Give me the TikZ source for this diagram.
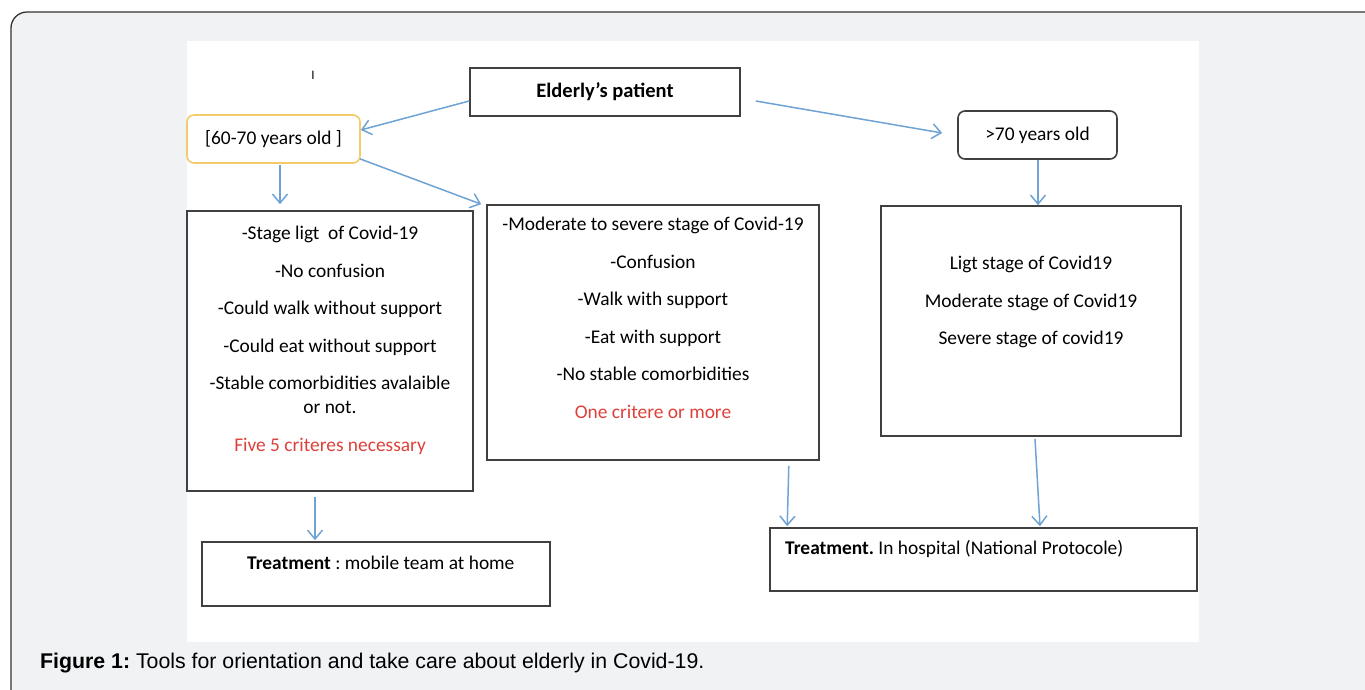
\documentclass[tikz,border=0pt]{standalone}
\usepackage{fontspec}
\setmainfont{Carlito}
\newfontfamily\capfont{Liberation Sans}
\usetikzlibrary{arrows.meta,positioning}
\frenchspacing
\definecolor{arrowblue}{RGB}{111,163,212}
\definecolor{ageyellow}{RGB}{243,203,107}
\definecolor{critred}{RGB}{222,64,58}
\definecolor{pagegray}{RGB}{241,242,244}
\definecolor{framegray}{RGB}{64,64,64}

\begin{document}
\begin{tikzpicture}[x=1pt,y=-1pt,
 frame/.style={draw=framegray,line width=1.6pt,inner sep=0pt,font=\fontsize{19.4}{22}\selectfont},
 ageframe/.style={frame,rounded corners=7pt},
 lines/.style={align=center,inner sep=0pt,font=\fontsize{19.4}{37.5}\selectfont},
 >={Straight Barb[length=9pt,width=15pt]},
 link/.style={->,draw=arrowblue,line width=1.5pt}]
\useasboundingbox (0,0) rectangle (1365,689);
% page and figure area
\draw[draw=black!80,fill=pagegray,line width=1.3pt,rounded corners=16pt] (11,12) rectangle (1420,720);
\fill[white] (187,41) rectangle (1199,642);
\node[font=\fontsize{13}{15}\selectfont,inner sep=0pt] (mark) at (313,75) {I};

% top level
\node[frame,font=\fontsize{20.5}{23}\selectfont,minimum width=270pt,minimum height=48pt] (elderly) at (605,92) {\textbf{Elderly’s patient}};
\node[ageframe,draw=ageyellow,minimum width=173pt,minimum height=48pt] (young) at (273.5,139) {[60-70 years old ]};
\node[ageframe,minimum width=159pt,minimum height=48pt] (old) at (1037.5,135) {>70 years old};

% criteria boxes
\node[frame,minimum width=286pt,minimum height=280pt] (leftbox) at (330,351) {};
\node[frame,minimum width=332pt,minimum height=255pt] (midbox) at (653,332.5) {};
\node[frame,minimum width=300pt,minimum height=230pt] (rightbox) at (1031,321) {};
\node[lines,below=16pt of leftbox.north] (lefttext) {-Stage ligt\ \ of Covid-19\\-No confusion\\-Could walk without support\\-Could eat without support\\-Stable comorbidities avalaible\\[-13.5pt]or not.\\\textcolor{critred}{Five 5 criteres necessary}};
\node[lines,below=13pt of midbox.north] (midtext) {-Moderate to severe stage of Covid-19\\-Confusion\\-Walk with support\\-Eat with support\\-No stable comorbidities\\\textcolor{critred}{One critere or more}};
\node[lines,below=51pt of rightbox.north] (righttext) {Ligt stage of Covid19\\Moderate stage of Covid19\\Severe stage of covid19};

% treatment boxes
\node[frame,minimum width=348pt,minimum height=64pt] (homebox) at (376,574) {};
\node[frame,minimum width=427pt,minimum height=63pt] (hospbox) at (983.5,559.5) {};
\node[lines,anchor=west] (hometext) at (247,563) {\textbf{Treatment} : mobile team at home};
\node[lines,anchor=west] (hosptext) at (785,549) {\textbf{Treatment.} In hospital (National Protocole)};

% connectors
\draw[link] ([yshift=-9pt]elderly.west) -- ([yshift=9pt]young.east);
\draw[link] ([xshift=15pt,yshift=-9pt]elderly.east) -- ([xshift=-15pt,yshift=2pt]old.west);
\draw[link] ([xshift=6.5pt,yshift=-1pt]young.south) -- ([xshift=-50pt,yshift=6pt]leftbox.north);
\draw[link] ([xshift=-1pt,yshift=5pt]young.south east) -- ([xshift=-5pt]midbox.north west);
\draw[link] ([xshift=0.5pt]old.south) -- ([xshift=0.5pt]old.south |- rightbox.north);
\draw[link] ([xshift=-15pt,yshift=-5pt]leftbox.south) -- ([xshift=-61pt,yshift=1pt]homebox.north);
\draw[link] ([xshift=-31pt,yshift=-5pt]midbox.south east) -- ([xshift=18pt,yshift=1pt]hospbox.north west);
\draw[link] ([xshift=4pt,yshift=-2pt]rightbox.south) -- ([xshift=56.5pt,yshift=1pt]hospbox.north);

% caption
\node[anchor=west,inner sep=0pt,font=\capfont\fontsize{21.3}{24}\selectfont] (caption) at (40,663) {\textbf{Figure 1:} Tools for orientation and take care about elderly in Covid-19.};
\end{tikzpicture}
\end{document}
